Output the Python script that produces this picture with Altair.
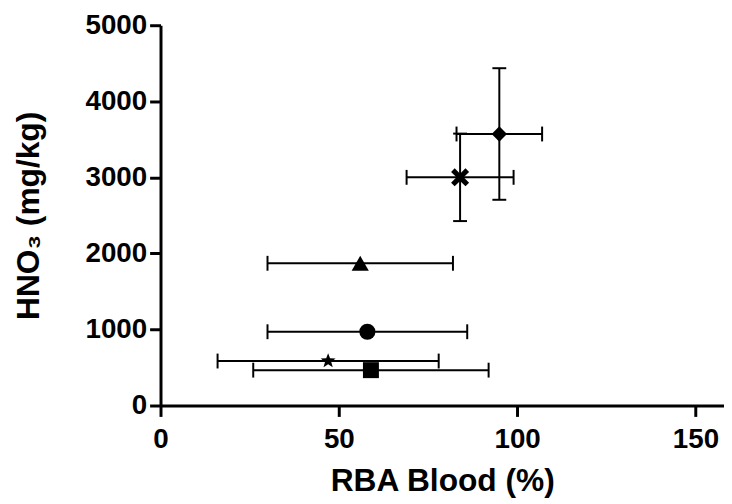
import altair as alt
import pandas as pd

# ---- data ----
groups = ["diamond", "cross", "triangle", "circle", "star", "square"]
rba = [95, 84, 56, 58, 47, 59]
rba_lo = [83, 69, 30, 30, 16, 26]
rba_hi = [107, 99, 82, 86, 78, 92]
hno3 = [3570, 3000, 1870, 970, 585, 465]
hno3_lo = [2705, 2425, None, None, None, None]
hno3_hi = [4435, 3575, None, None, None, None]

x_ticks = [0, 50, 100, 150]
y_ticks = [0, 1000, 2000, 3000, 4000, 5000]

df = pd.DataFrame({
    "group": groups, "rba": rba, "rba_lo": rba_lo, "rba_hi": rba_hi,
    "hno3": hno3,
})
dfy = pd.DataFrame({"group": groups, "rba": rba,
                    "hno3_lo": hno3_lo, "hno3_hi": hno3_hi}).dropna()

FONT = "Liberation Sans"
X_PATH = ("M -1 -0.6 L -0.6 -1 L 0 -0.4 L 0.6 -1 L 1 -0.6 L 0.4 0 "
          "L 1 0.6 L 0.6 1 L 0 0.4 L -0.6 1 L -1 0.6 L -0.4 0 Z")
STAR_PATH = ("M 0 -1 L 0.247 -0.340 L 0.951 -0.309 L 0.400 0.130 L 0.588 0.809 "
             "L 0 0.42 L -0.588 0.809 L -0.400 0.130 L -0.951 -0.309 "
             "L -0.247 -0.340 Z")
marker_style = {
    "diamond": ("diamond", 240),
    "cross": (X_PATH, 330),
    "triangle": ("triangle-up", 300),
    "circle": ("circle", 265),
    "star": (STAR_PATH, 250),
    "square": ("square", 260),
}

xscale = alt.Scale(domain=[0, 158], nice=False, zero=False)
yscale = alt.Scale(domain=[0, 5000], nice=False, zero=False)

xaxis = alt.Axis(values=x_ticks, title="RBA Blood (%)", orient="bottom",
                 labelPadding=9, titlePadding=13, grid=False)
yaxis = alt.Axis(values=y_ticks, title="HNO₃ (mg/kg)", orient="left",
                 labelPadding=3, titlePadding=40, grid=False, format="d")

base = alt.Chart(df)
basey = alt.Chart(dfy)

xbars = base.mark_rule(color="black", strokeWidth=2).encode(
    x=alt.X("rba_lo:Q", scale=xscale, axis=xaxis), x2="rba_hi:Q",
    y=alt.Y("hno3:Q", scale=yscale, axis=yaxis))
xcap_lo = base.mark_tick(color="black", orient="vertical", size=15, thickness=2,
                         opacity=1).encode(x="rba_lo:Q", y="hno3:Q")
xcap_hi = base.mark_tick(color="black", orient="vertical", size=15, thickness=2,
                         opacity=1).encode(x="rba_hi:Q", y="hno3:Q")

ybars = basey.mark_rule(color="black", strokeWidth=2).encode(
    x="rba:Q", y="hno3_lo:Q", y2="hno3_hi:Q")
ycap_lo = basey.mark_tick(color="black", orient="horizontal", size=14, thickness=2,
                          opacity=1).encode(x="rba:Q", y="hno3_lo:Q")
ycap_hi = basey.mark_tick(color="black", orient="horizontal", size=14, thickness=2,
                          opacity=1).encode(x="rba:Q", y="hno3_hi:Q")

point_layers = []
for g in groups:
    shp, sz = marker_style[g]
    point_layers.append(
        base.transform_filter(alt.datum.group == g)
        .mark_point(filled=True, color="black", opacity=1, strokeWidth=0,
                    shape=shp, size=sz)
        .encode(x="rba:Q", y="hno3:Q")
    )

chart = alt.layer(xbars, ybars, xcap_lo, xcap_hi, ycap_lo, ycap_hi,
                  *point_layers).properties(
    width=569, height=384,
    autosize=alt.AutoSizeParams(type="none"),
    padding={"left": 154, "top": 15, "right": 0, "bottom": 92},
    background="white",
).configure_view(stroke=None).configure_axis(
    grid=False,
    domainColor="black", domainWidth=3,
    tickColor="black", tickWidth=3, tickSize=11,
    labelFont=FONT, labelFontSize=28, labelFontWeight="bold", labelColor="black",
    titleFont=FONT, titleFontSize=32, titleFontWeight="bold", titleColor="black",
    labelFlush=False, labelOverlap=False,
)

chart.save("out.html", embed_options={"renderer": "svg", "actions": False})
